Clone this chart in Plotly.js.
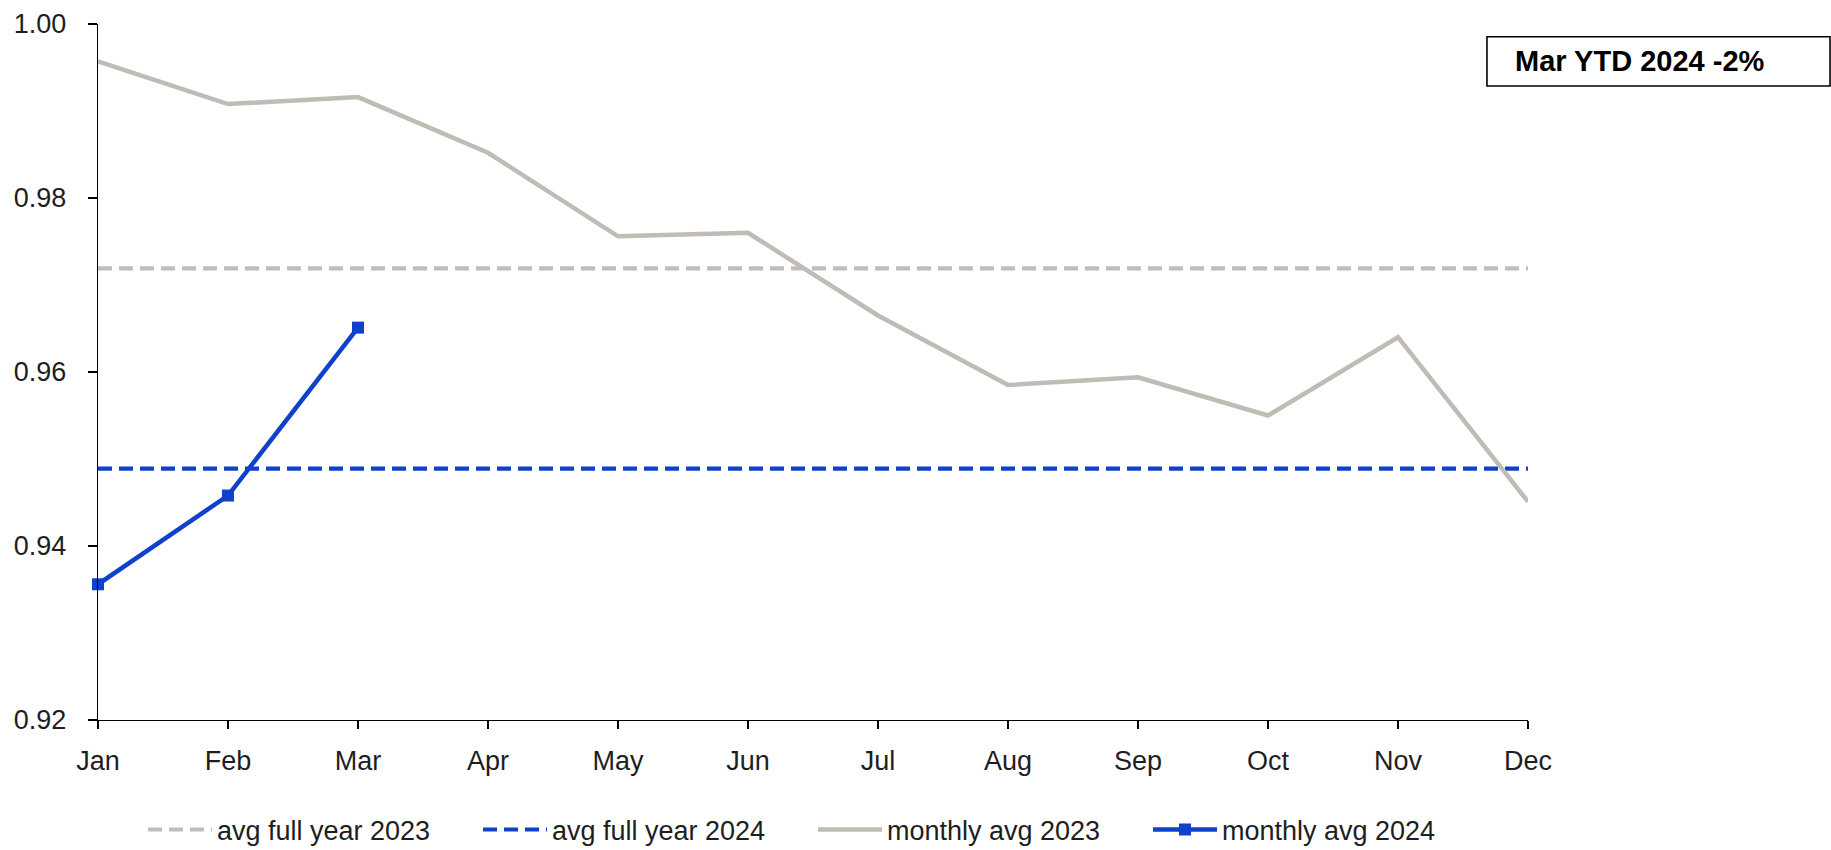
<!DOCTYPE html>
<html>
<head>
<meta charset="utf-8">
<script src="https://cdn.plot.ly/plotly-3.0.1.min.js"></script>
<style>
  html, body { margin: 0; padding: 0; background: #ffffff; }
  #chart { width: 1831px; height: 850px; }
</style>
</head>
<body>
<div id="chart"></div>
<script>
const months = ["Jan","Feb","Mar","Apr","May","Jun","Jul","Aug","Sep","Oct","Nov","Dec"];
const monthly2023 = [0.9957, 0.9908, 0.9916, 0.9852, 0.9756, 0.9760, 0.9665, 0.9585, 0.9594, 0.9550, 0.9640, 0.9451];
const monthly2024 = [0.9356, 0.9458, 0.9651];
const avgFullYear2023 = 0.9719;
const avgFullYear2024 = 0.9489;
const yTicks = [0.92, 0.94, 0.96, 0.98, 1.00];
const boxText = "Mar YTD 2024 -2%";

const GRAY_SOLID = "#C1BBB6";
const GRAY_DASH = "#BFBCBC";
const BLUE = "#0F41CC";
const FONT = "Liberation Sans, Arial, sans-serif";

const traces = [
  {
    name: "avg full year 2023",
    x: months,
    y: months.map(() => avgFullYear2023),
    mode: "lines",
    line: { color: GRAY_DASH, width: 4.2, dash: "14px,7px" },
  },
  {
    name: "avg full year 2024",
    x: months,
    y: months.map(() => avgFullYear2024),
    mode: "lines",
    line: { color: BLUE, width: 4.2, dash: "14px,7px" },
  },
  {
    name: "monthly avg 2023",
    x: months,
    y: monthly2023,
    mode: "lines",
    line: { color: GRAY_SOLID, width: 4.5 },
  },
  {
    name: "monthly avg 2024",
    x: months.slice(0, monthly2024.length),
    y: monthly2024,
    mode: "lines+markers",
    line: { color: BLUE, width: 4.5 },
    marker: { symbol: "square", size: 12, color: BLUE },
    cliponaxis: false,
  },
];

const layout = {
  width: 1831,
  height: 850,
  margin: { l: 98, r: 303, t: 24, b: 130, autoexpand: false },
  paper_bgcolor: "#ffffff",
  plot_bgcolor: "#ffffff",
  font: { family: FONT, size: 27, color: "#1e1e1e" },
  showlegend: true,
  xaxis: {
    type: "category",
    categoryorder: "array",
    categoryarray: months,
    range: [0, months.length - 1],
    showgrid: false,
    zeroline: false,
    showline: true,
    linecolor: "#000000",
    linewidth: 1.2,
    ticks: "outside",
    ticklen: 8,
    tickwidth: 1.2,
    tickcolor: "#000000",
    tickfont: { family: FONT, size: 27, color: "#1e1e1e" },
    ticklabelstandoff: 8,
  },
  yaxis: {
    range: [0.92, 1.00],
    tickvals: yTicks,
    tickformat: ".2f",
    showgrid: false,
    zeroline: false,
    showline: true,
    linecolor: "#000000",
    linewidth: 1.2,
    ticks: "outside",
    ticklen: 9,
    tickwidth: 1.2,
    tickcolor: "#000000",
    tickfont: { family: FONT, size: 27, color: "#1e1e1e" },
    ticklabelstandoff: 16,
  },
  legend: {
    orientation: "h",
    x: 0.5,
    xanchor: "center",
    y: -0.158,
    yanchor: "middle",
    itemwidth: 64,
    entrywidth: 256,
    entrywidthmode: "pixels",
    font: { family: FONT, size: 27, color: "#1e1e1e" },
    bgcolor: "rgba(0,0,0,0)",
    traceorder: "normal",
  },
  shapes: [
    {
      type: "rect",
      xref: "paper",
      yref: "paper",
      x0: 0.9713,
      x1: 1.2112,
      y0: 0.9109,
      y1: 0.9817,
      line: { color: "#000000", width: 1.6 },
      fillcolor: "rgba(255,255,255,0)",
      layer: "above",
    },
  ],
  annotations: [
    {
      text: "<b>" + boxText + "</b>",
      xref: "paper",
      yref: "paper",
      x: 0.9895,
      y: 0.9464,
      xanchor: "left",
      yanchor: "middle",
      showarrow: false,
      font: { family: FONT, size: 29, color: "#000000" },
    },
  ],
};

Plotly.newPlot("chart", traces, layout, { staticPlot: true, displayModeBar: false });
</script>
</body>
</html>
